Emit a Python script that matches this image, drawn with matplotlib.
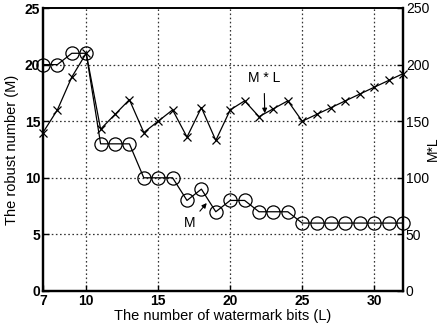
import matplotlib
matplotlib.use("Agg")
import matplotlib.pyplot as plt

plt.rcParams['font.family'] = ['Liberation Sans', 'DejaVu Sans']

# Number of watermark bits and the corresponding robust number
bits_L = [7, 8, 9, 10, 11, 12, 13, 14, 15, 16, 17, 18, 19, 20, 21, 22, 23, 24,
          25, 26, 27, 28, 29, 30, 31, 32]
robust_M = [20, 20, 21, 21, 13, 13, 13, 10, 10, 10, 8, 9, 7, 8, 8, 7, 7, 7,
            6, 6, 6, 6, 6, 6, 6, 6]
product_ML = [m * l for m, l in zip(robust_M, bits_L)]

x_ticks = [7, 10, 15, 20, 25, 30]
left_ticks = [0, 5, 10, 15, 20, 25]
right_ticks = [0, 50, 100, 150, 200, 250]

fig = plt.figure(figsize=(4.40, 3.31), dpi=100)
ax = fig.add_axes([43 / 440, 1 - 291 / 331, (403 - 43) / 440, (291 - 8) / 331])
ax2 = ax.twinx()

ax.set_xlim(7, 32)
ax.set_ylim(0, 25)
ax2.set_ylim(0, 250)
ax.set_xticks(x_ticks)
ax.set_yticks(left_ticks)
ax2.set_yticks(right_ticks)

ax.tick_params(direction='in', length=4, width=1, pad=2)
ax2.tick_params(direction='in', length=4, width=1, pad=2)

# dotted grid at the major ticks of the primary axes
for xv in x_ticks[1:]:
    ax.axvline(xv, color='#333333', lw=0.9, linestyle=(0, (1.3, 2.0)), zorder=1)
for yv in left_ticks[1:-1]:
    ax.axhline(yv, color='#333333', lw=0.9, linestyle=(0, (1.3, 2.0)), zorder=1)

ax.plot(bits_L, robust_M, color='black', lw=0.9, marker='o', ms=9.5,
        mfc='none', mec='black', mew=0.9, clip_on=False, zorder=3)
ax2.plot(bits_L, product_ML, color='black', lw=0.9, marker='x', ms=6,
         mew=0.9, clip_on=False, zorder=3)

for lab in ax.get_xticklabels() + ax.get_yticklabels():
    lab.set_fontweight('bold')
    lab.set_fontsize(10)
for lab in ax2.get_yticklabels():
    lab.set_fontsize(10)

for a in (ax, ax2):
    for s in ('left', 'bottom', 'right'):
        a.spines[s].set_linewidth(1.6)
    a.spines['top'].set_linewidth(1.2)

ax.set_xlabel('The number of watermark bits (L)', fontsize=10.5, labelpad=1)
ax.set_ylabel('The robust number (M)', fontsize=10.5, labelpad=4)
fig.text(433 / 440, 0.55, 'M*L', rotation=90, ha='center', va='center',
         fontsize=10)

ax2.annotate('M * L', xy=(22.4, 157), xytext=(22.35, 188),
             ha='center', va='center', fontsize=10,
             arrowprops=dict(arrowstyle='-|>', color='black', lw=0.8,
                             mutation_scale=7, shrinkA=4, shrinkB=0))
ax.annotate('M', xy=(18.37, 7.77), xytext=(17.2, 6.0),
            ha='center', va='center', fontsize=10,
            arrowprops=dict(arrowstyle='-|>', color='black', lw=0.8,
                            mutation_scale=7, shrinkA=2, shrinkB=0))

fig.savefig('out.png', dpi=100)
